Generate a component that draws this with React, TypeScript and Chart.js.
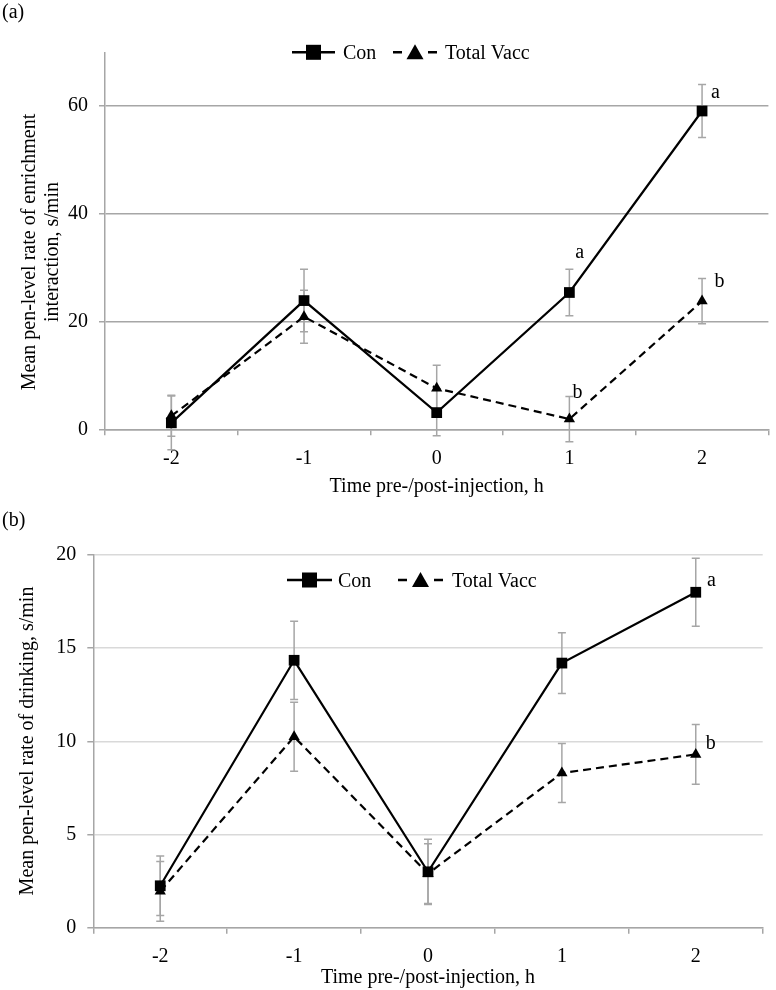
import React, { useEffect, useRef } from 'react';
import { Chart, registerables } from 'chart.js';

Chart.register(...registerables);

// ---------- data ----------
const timeLabels = ['-2', '-1', '0', '1', '2'];

const enrichCon = [1.2, 23.9, 3.1, 25.4, 59.1];
const enrichConErr = [5.0, 5.8, 4.3, 4.3, 4.9];
const enrichVacc = [2.5, 20.9, 7.6, 1.9, 23.8];
const enrichVaccErr = [3.8, 4.9, 4.3, 4.2, 4.2];

const drinkCon = [2.25, 14.35, 3.0, 14.2, 18.0];
const drinkConErr = [1.6, 2.1, 1.75, 1.63, 1.83];
const drinkVacc = [1.95, 10.25, 2.9, 8.3, 9.3];
const drinkVaccErr = [1.6, 1.85, 1.6, 1.58, 1.6];

const seriesNames = ['Con', 'Total Vacc'];
const xTitle = 'Time pre-/post-injection, h';
const enrichYTitle = ['Mean pen-level rate of enrichment', 'interaction, s/min'];
const drinkYTitle = ['Mean pen-level rate of drinking, s/min'];

// significance letters: text, category position (index), value
const enrichLetters = [
  { t: 'a', i: 4.1, v: 61.5 },
  { t: 'a', i: 3.077, v: 31.8 },
  { t: 'b', i: 3.062, v: 5.76 },
  { t: 'b', i: 4.132, v: 26.4 },
];
const drinkLetters = [
  { t: 'a', i: 4.117, v: 18.33 },
  { t: 'b', i: 4.112, v: 9.57 },
];

const FONT = '"Liberation Serif", "Times New Roman", serif';
const AXIS = '#a6a6a6';
const W = 776;

type PanelCfg = {
  top: number;
  height: number;
  con: number[];
  conErr: number[];
  vacc: number[];
  vaccErr: number[];
  yMax: number;
  yStep: number;
  gridColor: string;
  area: { left: number; right: number; top: number; bottom: number };
  yTitle: string[];
  yTitleX: number[];
  yTitleY: number;
  xTitleY: number;
  label: string;
  labelY: number;
  legend: { y: number; textY: number; conL: number; conR: number; conText: number; vL: number; vR: number; vText: number };
  letters: { t: string; i: number; v: number }[];
};

const errorBarPlugin = {
  id: 'errorBars',
  beforeDatasetsDraw(chart: any) {
    const ctx = chart.ctx;
    const ys = chart.scales.y;
    ctx.save();
    ctx.strokeStyle = AXIS;
    ctx.lineWidth = 1.5;
    chart.data.datasets.forEach((ds: any, di: number) => {
      const meta = chart.getDatasetMeta(di);
      meta.data.forEach((pt: any, i: number) => {
        const v = ds.data[i];
        const e = ds.errors[i];
        const x = pt.x;
        const yt = ys.getPixelForValue(v + e);
        const yb = ys.getPixelForValue(v - e);
        ctx.beginPath();
        ctx.moveTo(x, yt);
        ctx.lineTo(x, yb);
        ctx.moveTo(x - 4, yt);
        ctx.lineTo(x + 4, yt);
        ctx.moveTo(x - 4, yb);
        ctx.lineTo(x + 4, yb);
        ctx.stroke();
      });
    });
    ctx.restore();
  },
};

function makeDecor(cfg: PanelCfg) {
  return {
    id: 'decor',
    afterDraw(chart: any) {
      const ctx = chart.ctx;
      const xs = chart.scales.x;
      const ys = chart.scales.y;
      const ca = chart.chartArea;
      ctx.save();
      ctx.fillStyle = '#000';
      ctx.font = `20px ${FONT}`;
      ctx.textBaseline = 'alphabetic';

      // panel label
      ctx.textAlign = 'left';
      ctx.fillText(cfg.label, 2, cfg.labelY);

      // x title
      ctx.textAlign = 'center';
      ctx.fillText(xTitle, (ca.left + ca.right) / 2, cfg.xTitleY);

      // y title
      cfg.yTitle.forEach((line, k) => {
        ctx.save();
        ctx.translate(cfg.yTitleX[k], cfg.yTitleY);
        ctx.rotate(-Math.PI / 2);
        ctx.textAlign = 'center';
        ctx.fillText(line, 0, 0);
        ctx.restore();
      });

      // letters
      ctx.textAlign = 'center';
      cfg.letters.forEach((l) => {
        ctx.fillText(l.t, xs.getPixelForValue(l.i), ys.getPixelForValue(l.v));
      });

      // legend
      const L = cfg.legend;
      ctx.strokeStyle = '#000';
      ctx.lineWidth = 2.5;
      ctx.beginPath();
      ctx.moveTo(L.conL, L.y);
      ctx.lineTo(L.conR, L.y);
      ctx.stroke();
      const cx = (L.conL + L.conR) / 2;
      ctx.fillRect(cx - 7.5, L.y - 7.5, 15, 15);
      ctx.textAlign = 'left';
      ctx.fillText(seriesNames[0], L.conText, L.textY);

      const vx = (L.vL + L.vR) / 2;
      ctx.beginPath();
      ctx.moveTo(L.vL, L.y);
      ctx.lineTo(L.vL + 9, L.y);
      ctx.moveTo(L.vR - 9, L.y);
      ctx.lineTo(L.vR, L.y);
      ctx.stroke();
      ctx.beginPath();
      ctx.moveTo(vx, L.y - 8);
      ctx.lineTo(vx + 8.5, L.y + 7);
      ctx.lineTo(vx - 8.5, L.y + 7);
      ctx.closePath();
      ctx.fill();
      ctx.fillText(seriesNames[1], L.vText, L.textY);
      ctx.restore();
    },
  };
}

function Panel({ cfg }: { cfg: PanelCfg }) {
  const ref = useRef<HTMLCanvasElement | null>(null);
  useEffect(() => {
    if (!ref.current) return;
    const H = cfg.height;
    const font = { family: FONT, size: 20 };
    const chart = new Chart(ref.current, {
      type: 'line',
      data: {
        labels: timeLabels,
        datasets: [
          {
            label: seriesNames[0],
            data: cfg.con,
            errors: cfg.conErr,
            borderColor: '#000',
            backgroundColor: '#000',
            borderWidth: 2.2,
            pointStyle: 'rect',
            pointRadius: 7.6,
            pointBackgroundColor: '#000',
            pointBorderColor: '#000',
            pointBorderWidth: 0,
            tension: 0,
            fill: false,
            clip: false,
          } as any,
          {
            label: seriesNames[1],
            data: cfg.vacc,
            errors: cfg.vaccErr,
            borderColor: '#000',
            backgroundColor: '#000',
            borderWidth: 2.2,
            borderDash: [8, 5],
            pointStyle: 'triangle',
            pointRadius: 6.5,
            pointBackgroundColor: '#000',
            pointBorderColor: '#000',
            pointBorderWidth: 0,
            tension: 0,
            fill: false,
            clip: false,
          } as any,
        ],
      },
      options: {
        responsive: false,
        animation: false,
        layout: { padding: { left: 0, right: W - cfg.area.right, top: cfg.area.top, bottom: 0 } },
        plugins: { legend: { display: false }, tooltip: { enabled: false } },
        scales: {
          x: {
            offset: true,
            grid: { offset: true, drawOnChartArea: false, tickLength: 6, color: AXIS, lineWidth: 1.5 },
            border: { color: AXIS, width: 1.5 },
            ticks: { font, color: '#000', padding: 11, maxRotation: 0 },
            afterFit: (s: any) => {
              s.height = H - cfg.area.bottom;
            },
          },
          y: {
            min: 0,
            max: cfg.yMax,
            ticks: { stepSize: cfg.yStep, includeBounds: false, font, color: '#000', padding: 11 },
            grid: { color: cfg.gridColor, lineWidth: 1.5, tickLength: 6, tickColor: AXIS },
            border: { color: AXIS, width: 1.5 },
            afterFit: (s: any) => {
              s.width = cfg.area.left;
            },
          },
        },
      } as any,
      plugins: [errorBarPlugin, makeDecor(cfg)],
    });
    return () => chart.destroy();
  }, [cfg]);
  return (
    <canvas
      ref={ref}
      width={W}
      height={cfg.height}
      style={{ position: 'absolute', left: 0, top: cfg.top, width: W, height: cfg.height }}
    />
  );
}

const panelA: PanelCfg = {
  top: 0,
  height: 500,
  con: enrichCon,
  conErr: enrichConErr,
  vacc: enrichVacc,
  vaccErr: enrichVaccErr,
  yMax: 70,
  yStep: 20,
  gridColor: '#a6a6a6',
  area: { left: 105, right: 775, top: 52.3, bottom: 429.3 },
  yTitle: enrichYTitle,
  yTitleX: [35, 57.5],
  yTitleY: 252,
  xTitleY: 492,
  label: '(a)',
  labelY: 18,
  legend: { y: 52.3, textY: 59.3, conL: 292, conR: 335, conText: 343, vL: 393, vR: 437, vText: 445 },
  letters: enrichLetters,
};

const panelB: PanelCfg = {
  top: 500,
  height: 490,
  con: drinkCon,
  conErr: drinkConErr,
  vacc: drinkVacc,
  vaccErr: drinkVaccErr,
  yMax: 20,
  yStep: 5,
  gridColor: '#d9d9d9',
  area: { left: 93.3, right: 762.7, top: 55, bottom: 427.7 },
  yTitle: drinkYTitle,
  yTitleX: [33],
  yTitleY: 241,
  xTitleY: 483,
  label: '(b)',
  labelY: 26,
  legend: { y: 80, textY: 86.7, conL: 287, conR: 332, conText: 338, vL: 398, vR: 443, vText: 452 },
  letters: drinkLetters,
};

export default function App() {
  return (
    <div style={{ position: 'absolute', left: 0, top: 0, width: W, height: 990, background: '#fff' }}>
      <Panel cfg={panelA} />
      <Panel cfg={panelB} />
    </div>
  );
}
